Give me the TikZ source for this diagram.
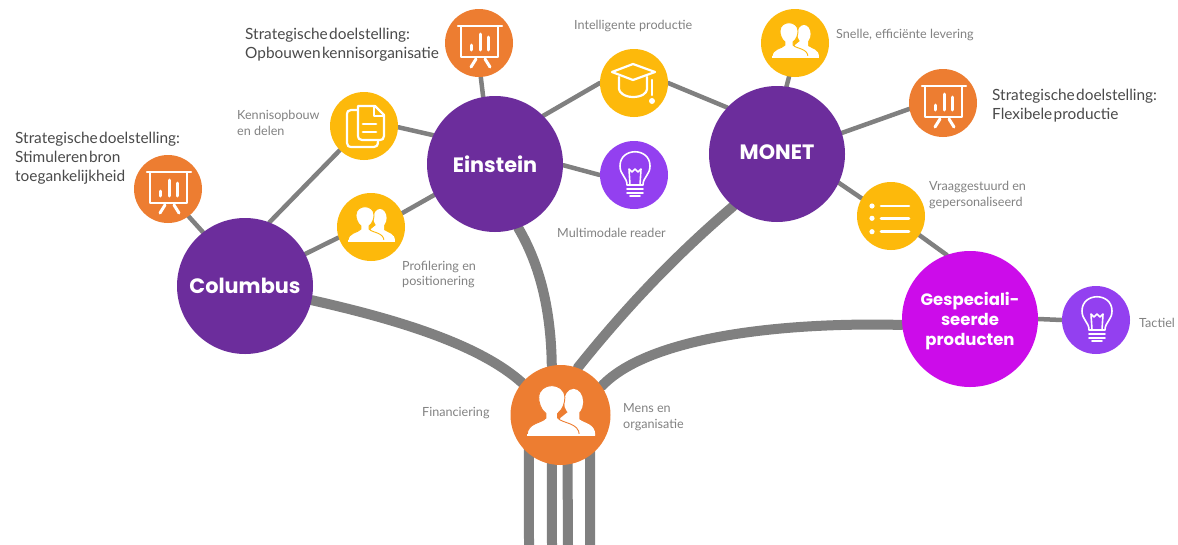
\documentclass[tikz,border=0pt]{standalone}
\usepackage{fontspec}
\setmainfont{Lato}
\newfontfamily\stratfont[WordSpace=0.35]{Lato}
\newfontfamily\headfont{Poppins}
\definecolor{deeppurple}{HTML}{6C2D9C}
\definecolor{orangec}{HTML}{ED7D31}
\definecolor{yellowc}{HTML}{FDB90B}
\definecolor{lilac}{HTML}{9340F0}
\definecolor{magentac}{HTML}{CC0CEA}
\definecolor{linec}{HTML}{808080}
\definecolor{smalltxt}{HTML}{828282}
\definecolor{strattxt}{HTML}{4A4A4A}
\pgfdeclarelayer{paper}
\pgfdeclarelayer{bg}
\pgfsetlayers{paper,bg,main}
\tikzset{
  x=1pt,y=-1pt,
  bigc/.style={circle,minimum size=136pt,inner sep=0pt,fill=#1,text=white,align=center},
  smallc/.style={circle,minimum size=68pt,inner sep=0pt,fill=#1},
  hubc/.style={circle,minimum size=100pt,inner sep=0pt,fill=#1},
  thinline/.style={draw=linec,line width=4.5pt,line cap=round},
  thickline/.style={draw=linec,line width=10pt,line cap=round},
  stemline/.style={draw=linec,line width=10pt},
  lab/.style={anchor=west,align=left,inner sep=0pt,text=smalltxt,font=\fontsize{12.6}{15.8}\selectfont},
  stratlab/.style={anchor=west,align=left,inner sep=0pt,text=strattxt,font=\stratfont\fontsize{15.4}{19}\selectfont},
  head/.style={font=\headfont\fontsize{#1}{20.5}\selectfont},
  ico/.style={draw=white,line width=2.2pt,line cap=round,line join=round},
  pics/chartico/.style={code={
    \draw[ico] (-21,-17) -- (23,-17);
    \draw[ico] (-18,-16) -- (-18,14) -- (19,14) -- (19,-16);
    \draw[ico,line width=3pt] (-8,2) -- (-8,7) (1,-9) -- (1,7) (9,-6) -- (9,7);
    \draw[ico,line width=3pt] (-3,16) -- (-8,24) (6,16) -- (11,24);
  }},
  pics/personsico/.style={code={
    \fill[white] (9,-9) ellipse (6.6 and 9);
    \fill[white] (5,-2) -- (13,-2) -- (13,3) .. controls (17,6) and (24,6) .. (24,14) -- (-4,14) -- (0,2) -- cycle;
    \draw[#1,line width=0.9pt,fill=white] (-23,14) .. controls (-23,5) and (-13,6) .. (-10,2) -- (-10,-1)
      .. controls (-14,-4) and (-15,-9) .. (-15,-12) .. controls (-15,-23) and (3,-23) .. (3,-12)
      .. controls (3,-9) and (2,-4) .. (-2,-1) -- (-2,2) .. controls (1,6) and (13,5) .. (13,14) -- cycle;
    \fill[white] (-23,13) rectangle (24,14.6);
  }},
  pics/docico/.style={code={
    \draw[ico] (-6,-16) -- (-13,-16) .. controls (-16,-16) and (-17,-14) .. (-17,-12) -- (-17,17) .. controls (-17,20) and (-15,21) .. (-13,21) -- (10,21) .. controls (12,21) and (14,20) .. (14,15);
    \draw[ico,fill=yellowc] (-6,-20) -- (11,-20) -- (20,-11) -- (20,10) .. controls (20,13) and (18,14) .. (16,14) -- (-2,14) .. controls (-5,14) and (-6,12) .. (-6,10) -- cycle;
    \draw[ico] (10,-19) -- (10,-10) -- (19,-10);
    \draw[ico,line width=2.8pt] (-1,-2) -- (12,-2) (-1,6) -- (12,6);
  }},
  pics/capico/.style={code={
    \draw[ico] (-22,-11) -- (-1,-19) -- (21,-11) -- (-1,-3) -- cycle;
    \draw[ico] (-15,-6) -- (-15,6) .. controls (-15,9) and (-10,14) .. (-1,14) .. controls (8,14) and (13,10) .. (13,6) -- (13,-6);
    \draw[ico] (18,-3) -- (18,12);
    \fill[white] (18,18) circle (3);
  }},
  pics/bulbico/.style={code={
    \draw[ico,line width=1.6pt] (-7,10) .. controls (-7,2) and (-14,0) .. (-14,-9) .. controls (-14,-28) and (16,-28) .. (16,-9) .. controls (16,0) and (9,2) .. (9,10) -- cycle;
    \draw[ico,line width=1.6pt] (-4,10) -- (-5,-6) -- (-2,-3) -- (1,-6) -- (4,-3) -- (7,-6) -- (6,10);
    \draw[ico,line width=1.6pt] (-7,14) -- (9,14) (-7,18) -- (9,18) (-4,21) -- (6,21);
  }},
  pics/listico/.style={code={
    \fill[white] (-19,-10) circle (2.6) (-19,2.3) circle (2.6) (-19,15.7) circle (2.6);
    \draw[ico,line width=2.6pt] (-10,-10) -- (18,-10) (-10,2.3) -- (18,2.3) (-10,15.7) -- (18,15.7);
  }}
}
\begin{document}
\begin{tikzpicture}
\useasboundingbox (0,0) rectangle (1178,544);
\begin{pgfonlayer}{paper}
\fill[white] (0,0) rectangle (1178,544);
\end{pgfonlayer}
% main circles
\node[bigc=deeppurple,head=20.8] (col) at (245,286) {\bfseries Columbus};
\node[bigc=deeppurple,head=20.8] (ein) at (495,164) {\bfseries Einstein};
\node[bigc=deeppurple,head=20.8] (mon) at (777,154) {\raisebox{4pt}{\bfseries MONET}};
\node[bigc=magentac,head=16.5] (spec) at (970,319) {\rule{0pt}{18pt}\bfseries Gespeciali-\\[-0.5pt]\bfseries seerde\\[-0.5pt]\bfseries producten};
\node[hubc=orangec] (hub) at (560.5,415) {};
% small circles
\node[smallc=orangec] (chartL) at (168,189) {};
\node[smallc=orangec] (chartT) at (479,43) {};
\node[smallc=orangec] (chartR) at (943,103) {};
\node[smallc=yellowc] (kennis) at (364,126) {};
\node[smallc=yellowc] (prof) at (371,227) {};
\node[smallc=yellowc] (intel) at (634,83) {};
\node[smallc=yellowc] (snel) at (795,43) {};
\node[smallc=yellowc] (vraag) at (891,216) {};
\node[smallc=lilac] (multi) at (634,175) {};
\node[smallc=lilac] (tact) at (1096,320) {};
% icons
\pic at (chartL) {chartico};
\pic at (chartT) {chartico};
\pic at (chartR) {chartico};
\pic at (kennis) {docico};
\pic at (prof) {personsico=yellowc};
\pic at (intel) {capico};
\pic at (snel) {personsico=yellowc};
\pic at (vraag) {listico};
\pic at (multi) {bulbico};
\pic at (tact) {bulbico};
\pic[scale=1.45] at (hub) {personsico=orangec};
% free ends of the stems
\coordinate (s1) at (529,546);
\coordinate (s2) at (552,546);
\coordinate (s3) at (568,546);
\coordinate (s4) at (590,546);
\begin{pgfonlayer}{bg}
\draw[thinline] (chartL.-53) -- (col.128);
\draw[thinline] (col.69) -- (kennis.225);
\draw[thinline] (col.28) -- (prof.198);
\draw[thinline] (kennis.-2) -- (ein.155);
\draw[thinline] (prof.24) -- (ein.207);
\draw[thinline] (chartT.-87) -- (ein.100);
\draw[thinline] (ein.45) -- (intel.180);
\draw[thinline] (intel.0) -- (mon.137);
\draw[thinline] (ein.-1) -- (multi.180);
\draw[thinline] (snel.-100) -- (mon.82);
\draw[thinline] (mon.18) -- (chartR.190);
\draw[thinline] (mon.-25) -- (vraag.149);
\draw[thinline] (vraag.-34) -- (spec.110);
\draw[thinline] (spec.0) -- (tact.180);
\draw[thickline] (col.-12) .. controls (400,320) and (480,345) .. (hub.140);
\draw[thickline] (ein.-70) .. controls (540,265) and (551,310) .. (hub.100);
\draw[thickline] (mon.-130) .. controls (670,260) and (620,315) .. (hub.70);
\draw[thickline] (spec.185) .. controls (790,322) and (650,335) .. (hub.35);
\draw[stemline] ([yshift=12pt]hub.231) -- (s1);
\draw[stemline] ([yshift=12pt]hub.260) -- (s2);
\draw[stemline] ([yshift=12pt]hub.278) -- (s3);
\draw[stemline] ([yshift=12pt]hub.306) -- (s4);
\end{pgfonlayer}
% labels
\node[stratlab] (t1) at (15,158.5) {Strategische doelstelling:\\Stimuleren bron\\toegankelijkheid};
\node[stratlab] (t2) at (245,45) {Strategische doelstelling:\\Opbouwen kennisorganisatie};
\node[stratlab] (t3) at (992,106) {Strategische doelstelling:\\Flexibele productie};
\node[lab] (t4) at (237,123) {Kennisopbouw\\en delen};
\node[lab] (t5) at (574,26.5) {Intelligente productie};
\node[lab] (t6) at (557,232.5) {Multimodale reader};
\node[lab] (t7) at (402,274.5) {Profilering en\\positionering};
\node[lab] (t8) at (836,35.5) {Snelle, efficiënte levering};
\node[lab] (t9) at (929,195) {Vraaggestuurd en\\gepersonaliseerd};
\node[lab] (t10) at (1139,322.5) {Tactiel};
\node[lab] (t11) at (422,413.5) {Financiering};
\node[lab] (t12) at (623,417.5) {Mens en\\organisatie};
\end{tikzpicture}
\end{document}
